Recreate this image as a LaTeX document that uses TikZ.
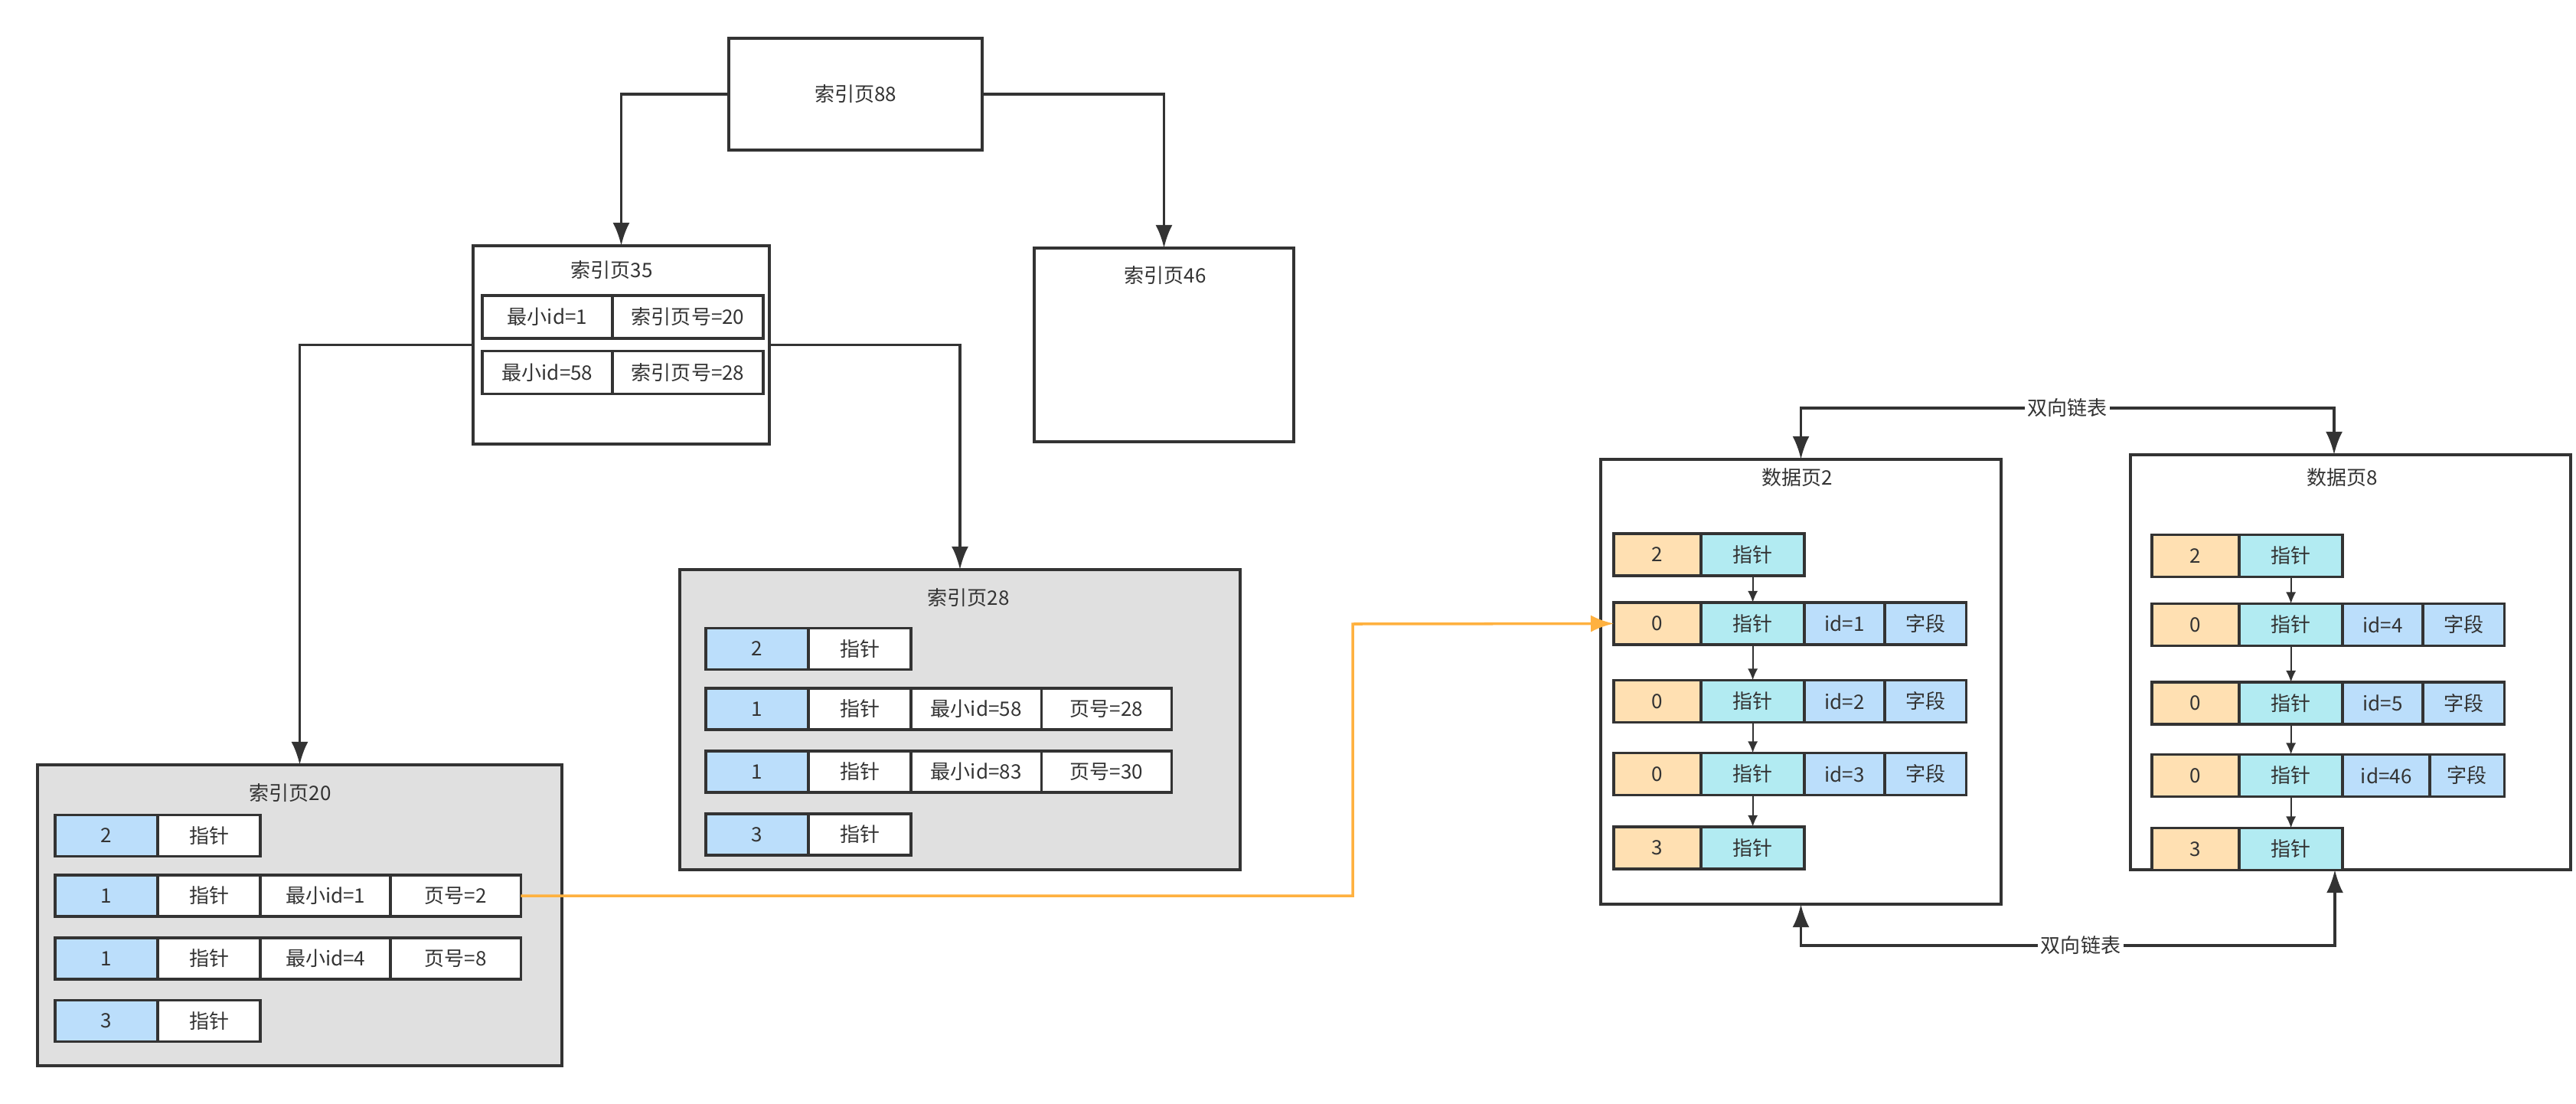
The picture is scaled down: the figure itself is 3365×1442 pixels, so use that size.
\documentclass[tikz,border=0pt]{standalone}
\usepackage{fontspec}
\setmainfont{Noto Sans CJK SC}
\usepackage{tikz}
\usetikzlibrary{arrows.meta,positioning,calc}

\definecolor{ink}{HTML}{333333}
\definecolor{pagegray}{HTML}{E0E0E0}
\definecolor{idxblue}{HTML}{BBDEFB}
\definecolor{hdrorange}{HTML}{FFE0B2}
\definecolor{ptrcyan}{HTML}{B2EBF2}
\definecolor{hilite}{HTML}{FFB13F}

\begin{document}
\begin{tikzpicture}[x=0.01cm, y=-0.01cm,
font=\fontsize{7.4pt}{9pt}\selectfont, text=ink,
page/.style={draw=ink, line width=1pt, outer sep=0pt},
cell/.style={draw=ink, line width=1pt, outer sep=0pt, inner sep=0pt, minimum height=0.54cm},
num/.style={cell, fill=idxblue, minimum width=1.34cm},
ptr/.style={cell, fill=white, minimum width=1.34cm},
key/.style={cell, fill=white, minimum width=1.70cm},
hdr/.style={cell, fill=hdrorange, minimum width=1.14cm, minimum height=0.55cm},
nxt/.style={cell, fill=ptrcyan, minimum width=1.35cm, minimum height=0.55cm},
rec/.style={cell, fill=idxblue, minimum width=1.05cm, minimum height=0.55cm},
link/.style={draw=ink, line width=1pt, -{Latex[length=0.3cm,width=0.22cm]}},
hop/.style={draw=ink, line width=0.5pt, -{Latex[length=0.15cm,width=0.13cm]}},
lbl/.style={fill=white, inner sep=1pt}]

\fill[white, use as bounding box] (0,0) rectangle (3365,1442);

% index pages
\node[page, minimum width=3.31cm, minimum height=1.46cm] (p88) at (1117.5,123) {索引页88};
\node[page, minimum width=3.87cm, minimum height=2.59cm] (p35) at (811.5,450.5) {};
\node[page, minimum width=3.39cm, minimum height=2.53cm] (p46) at (1520.5,450.5) {};
\node[page, fill=pagegray, minimum width=7.32cm, minimum height=3.92cm] (p28) at (1254,940) {};
\node[page, fill=pagegray, minimum width=6.85cm, minimum height=3.93cm] (p20) at (391.5,1195.5) {};
\node (t35) at (799,353) {索引页35};
\node (t46) at (1522,360) {索引页46};
\node (t28) at (1265,781) {索引页28};
\node (t20) at (379,1036) {索引页20};

\node[key, anchor=west, minimum height=0.56cm] (p35r1id) at (630,414) {最小id=1};
\node[key, right=0pt of p35r1id, minimum width=1.97cm, minimum height=0.56cm] (p35r1pg) {索引页号=20};
\node[key, anchor=west, minimum height=0.56cm] (p35r2id) at (630,486.5) {最小id=58};
\node[key, right=0pt of p35r2id, minimum width=1.97cm, minimum height=0.56cm] (p35r2pg) {索引页号=28};

\foreach \pg/\x/\ya/\yb/\yc/\yd/\ia/\ib/\na/\nb in
  {20/72/1091.5/1170/1252/1333.5/1/4/2/8, 28/922/847.5/926/1008/1090/58/83/28/30} {
  \node[num, anchor=west] (p\pg r1n) at (\x,\ya) {2};
  \node[ptr, right=0pt of p\pg r1n] (p\pg r1p) {指针};
  \node[num, anchor=west] (p\pg r2n) at (\x,\yb) {1};
  \node[ptr, right=0pt of p\pg r2n] (p\pg r2p) {指针};
  \node[key, right=0pt of p\pg r2p] (p\pg r2id) {最小id=\ia};
  \node[key, right=0pt of p\pg r2id] (p\pg r2pg) {页号=\na};
  \node[num, anchor=west] (p\pg r3n) at (\x,\yc) {1};
  \node[ptr, right=0pt of p\pg r3n] (p\pg r3p) {指针};
  \node[key, right=0pt of p\pg r3p] (p\pg r3id) {最小id=\ib};
  \node[key, right=0pt of p\pg r3id] (p\pg r3pg) {页号=\nb};
  \node[num, anchor=west] (p\pg r4n) at (\x,\yd) {3};
  \node[ptr, right=0pt of p\pg r4n] (p\pg r4p) {指针};
}

\draw[link] (p88.west) -| (p35.north);
\draw[link] (p88.east) -| (p46.north);
\draw[link] (p35.west) -| (p20.north);
\draw[link] (p35.east) -| (p28.north);

% data pages
\node[page, minimum width=5.23cm, minimum height=5.81cm] (d2) at (2352.5,890.5) {};
\node[page, minimum width=5.75cm, minimum height=5.42cm] (d8) at (3070.5,865) {};
\node (t2) at (2348,624) {数据页2};
\node (t8) at (3060,624) {数据页8};

\node[hdr, anchor=west] (d2r1n) at (2108,724.5) {2};
\node[nxt, right=0pt of d2r1n] (d2r1p) {指针};
\foreach \rw/\y/\v in {2/814.5/1, 3/916/2, 4/1011/3} {
  \node[hdr, anchor=west] (d2r\rw n) at (2108,\y) {0};
  \node[nxt, right=0pt of d2r\rw n] (d2r\rw p) {指针};
  \node[rec, right=0pt of d2r\rw p] (d2r\rw id) {id=\v};
  \node[rec, right=0pt of d2r\rw id, minimum width=1.06cm] (d2r\rw f) {字段};
}
\node[hdr, anchor=west] (d2r5n) at (2108,1107.5) {3};
\node[nxt, right=0pt of d2r5n] (d2r5p) {指针};

\node[hdr, anchor=west] (d8r1n) at (2811,726) {2};
\node[nxt, right=0pt of d8r1n] (d8r1p) {指针};
\foreach \rw/\y/\v/\wa/\wb in {2/816/4/1.05/1.06, 3/918.5/5/1.05/1.06, 4/1013/46/1.14/0.97} {
  \node[hdr, anchor=west] (d8r\rw n) at (2811,\y) {0};
  \node[nxt, right=0pt of d8r\rw n] (d8r\rw p) {指针};
  \node[rec, right=0pt of d8r\rw p, minimum width=\wa cm] (d8r\rw id) {id=\v};
  \node[rec, right=0pt of d8r\rw id, minimum width=\wb cm] (d8r\rw f) {字段};
}
\node[hdr, anchor=west] (d8r5n) at (2811,1109) {3};
\node[nxt, right=0pt of d8r5n] (d8r5p) {指针};

\foreach \a/\b in {1/2, 2/3, 3/4, 4/5} {
  \draw[hop] (d2r\a p) -- (d2r\b p);
  \draw[hop] (d8r\a p) -- (d8r\b p);
}

% links between pages
\coordinate (turn) at (1767,815);
\draw[hilite, line width=1pt, -{Latex[length=0.3cm,width=0.22cm]}] (p20r2pg.east) -| (turn) -- (d2r2n.west);

\coordinate (up8) at (3049,533);
\coordinate (dn8) at (3050,1235);
\draw[link, {Latex[length=0.3cm,width=0.22cm]}-{Latex[length=0.3cm,width=0.22cm]}]
  (d2.north) |- node[lbl, pos=0.75] {双向链表} (up8) -- (up8 |- d8.north);
\draw[link, {Latex[length=0.3cm,width=0.22cm]}-{Latex[length=0.3cm,width=0.22cm]}]
  (d2.south) |- node[lbl, pos=0.762] {双向链表} (dn8) -- (dn8 |- d8.south);
\end{tikzpicture}
\end{document}
